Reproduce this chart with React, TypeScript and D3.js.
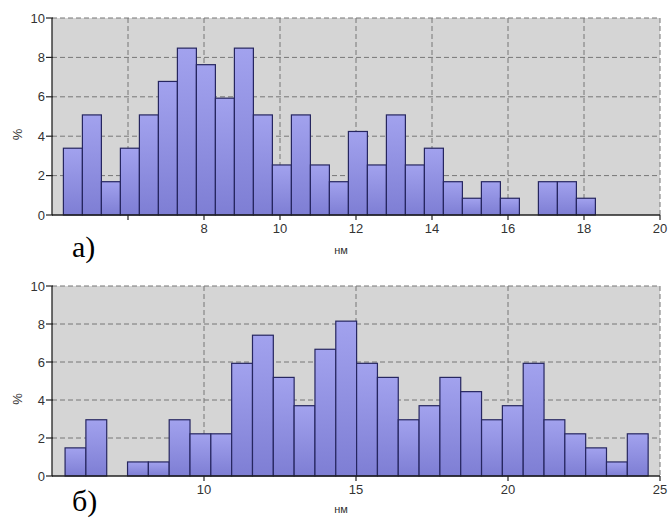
import React from 'react';
import * as d3 from 'd3';

// histogram a) — percentages per bin, bins start at 4.3 nm, 0.5 nm wide
const topValues = [3.39, 5.08, 1.69, 3.39, 5.08, 6.78, 8.47, 7.63, 5.93, 8.47, 5.08, 2.54, 5.08, 2.54,
  1.69, 4.24, 2.54, 5.08, 2.54, 3.39, 1.69, 0.85, 1.69, 0.85, 0, 1.69, 1.69, 0.85];
const topBinStart = 4.3;
const topBinWidth = 0.5;
const topXTicks = [6, 8, 10, 12, 14, 16, 18, 20];
const topXLabels = ['', '8', '10', '12', '14', '16', '18', '20'];

// histogram б) — bins start at 5.43 nm, 0.685 nm wide
const bottomValues = [1.48, 2.96, 0, 0.74, 0.74, 2.96, 2.22, 2.22, 5.93, 7.41, 5.19, 3.70, 6.67, 8.15,
  5.93, 5.19, 2.96, 3.70, 5.19, 4.44, 2.96, 3.70, 5.93, 2.96, 2.22, 1.48, 0.74, 2.22];
const bottomBinStart = 5.43;
const bottomBinWidth = 0.685;
const bottomXTicks = [10, 15, 20, 25];
const bottomXLabels = ['10', '15', '20', '25'];

const yTicks = [0, 2, 4, 6, 8, 10];

const FONT = '"Liberation Sans", Arial, sans-serif';

type HistProps = {
  values: number[];
  binStart: number;
  binWidth: number;
  xDomain: [number, number];
  xTicks: number[];
  xLabels: string[];
  top: number;
  bottom: number;
  tag: string;
  tagY: number;
  unitY: number;
};

function Hist({ values, binStart, binWidth, xDomain, xTicks, xLabels, top, bottom, tag, tagY, unitY }: HistProps) {
  const x = d3.scaleLinear().domain(xDomain).range([52, 660]);
  const y = d3.scaleLinear().domain([0, 10]).range([bottom, top]);
  const left = x(xDomain[0]);
  const right = x(xDomain[1]);

  return (
    <g>
      <rect x={left} y={top} width={right - left} height={bottom - top} fill="#d5d5d5" />
      {yTicks.filter(t => t > 0).map(t => (
        <line key={'gy' + t} x1={left} x2={right} y1={y(t)} y2={y(t)}
          stroke="#777" strokeWidth={1} strokeDasharray="5,3" />
      ))}
      {xTicks.map(t => (
        <line key={'gx' + t} x1={x(t)} x2={x(t)} y1={top} y2={bottom}
          stroke="#777" strokeWidth={1} strokeDasharray="5,3" />
      ))}
      {values.map((v, i) => v > 0 && (
        <rect key={i}
          x={x(binStart + i * binWidth)}
          y={y(v)}
          width={x(binStart + (i + 1) * binWidth) - x(binStart + i * binWidth)}
          height={bottom - y(v)}
          fill="url(#barGrad)" stroke="#262660" strokeWidth={1.2} />
      ))}
      {/* axes */}
      <line x1={left} x2={left} y1={top} y2={bottom} stroke="#222" strokeWidth={1.3} />
      <line x1={left} x2={right} y1={bottom} y2={bottom} stroke="#222" strokeWidth={1.3} />
      {yTicks.map(t => (
        <g key={'ty' + t}>
          <line x1={left - 6} x2={left + 1} y1={y(t)} y2={y(t)} stroke="#222" strokeWidth={1.2} />
          <text x={left - 7} y={y(t)} dy="0.35em" textAnchor="end" fontSize={13}
            fontFamily={FONT} fill="#333">{t}</text>
        </g>
      ))}
      {xTicks.map((t, i) => (
        <g key={'tx' + t}>
          <line x1={x(t)} x2={x(t)} y1={bottom} y2={bottom + 5} stroke="#222" strokeWidth={1.2} />
          <text x={x(t)} y={bottom + 18} textAnchor="middle" fontSize={13}
            fontFamily={FONT} fill="#333">{xLabels[i]}</text>
        </g>
      ))}
      <text transform={`translate(22,${(top + bottom) / 2 + 18}) rotate(-90)`} textAnchor="middle"
        fontSize={13} fontFamily={FONT} fill="#333">%</text>
      <text x={341} y={unitY} textAnchor="middle" fontSize={11} fontFamily={FONT} fill="#333">нм</text>
      <text x={72} y={tagY} fontSize={30} fontFamily='"Liberation Serif", "Times New Roman", serif'
        fill="#000">{tag}</text>
    </g>
  );
}

export default function App() {
  return (
    <svg width={669} height={520} style={{ position: 'absolute', left: 0, top: 0, background: '#fff' }}>
      <defs>
        <linearGradient id="barGrad" x1="0" y1="0" x2="0" y2="1">
          <stop offset="0%" stopColor="#a2a2ee" />
          <stop offset="100%" stopColor="#7e7ed4" />
        </linearGradient>
      </defs>
      <Hist values={topValues} binStart={topBinStart} binWidth={topBinWidth} xDomain={[4, 20]}
        xTicks={topXTicks} xLabels={topXLabels} top={18} bottom={215} tag="а)" tagY={257} unitY={254} />
      <Hist values={bottomValues} binStart={bottomBinStart} binWidth={bottomBinWidth} xDomain={[5, 25]}
        xTicks={bottomXTicks} xLabels={bottomXLabels} top={286} bottom={476} tag="б)" tagY={511} unitY={513} />
    </svg>
  );
}
